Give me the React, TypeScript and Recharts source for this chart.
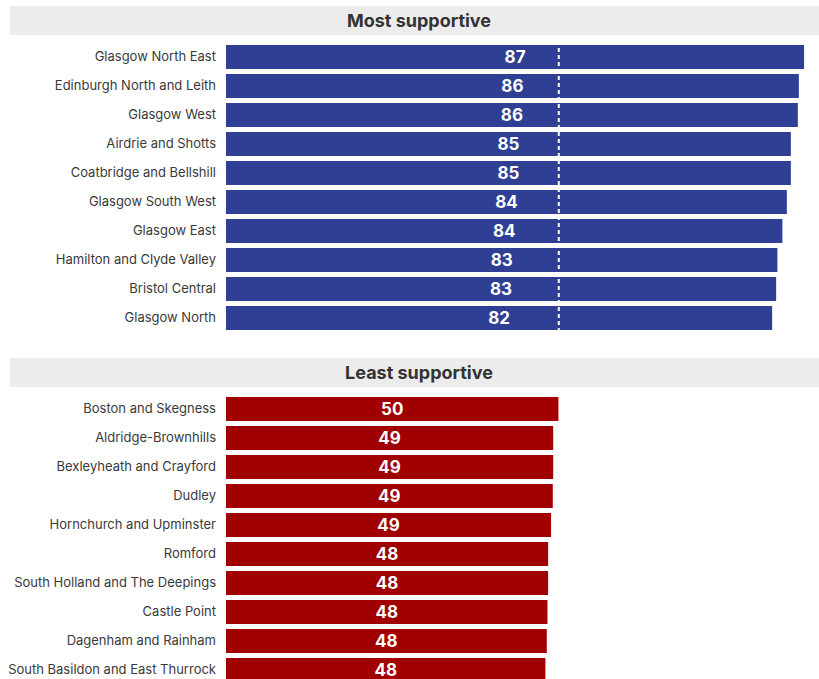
import React from 'react'
import { BarChart, Bar, XAxis, YAxis, ReferenceLine, LabelList } from 'recharts'

// most supportive constituencies (% support)
const topNames = [
  'Glasgow North East', 'Edinburgh North and Leith', 'Glasgow West', 'Airdrie and Shotts',
  'Coatbridge and Bellshill', 'Glasgow South West', 'Glasgow East', 'Hamilton and Clyde Valley',
  'Bristol Central', 'Glasgow North',
]
const topValues = [86.86, 86.07, 85.92, 84.87, 84.87, 84.27, 83.6, 82.85, 82.66, 82.06]

// least supportive
const bottomNames = [
  'Boston and Skegness', 'Aldridge-Brownhills', 'Bexleyheath and Crayford', 'Dudley',
  'Hornchurch and Upminster', 'Romford', 'South Holland and The Deepings', 'Castle Point',
  'Dagenham and Rainham', 'South Basildon and East Thurrock',
]
const bottomValues = [49.95, 49.16, 49.16, 49.1, 48.84, 48.4, 48.4, 48.3, 48.2, 47.99]

const FONT = 'Inter, "Noto Sans", sans-serif'
const BLUE = '#2e3f94'
const RED = '#a00000'

// single-line tick so long names don't wrap
const NameTick = ({ x, y, payload }: any) => (
  <text x={x} y={y} dy={4.5} textAnchor="end" fill="#3a3a3a" fontSize={13} fontFamily={FONT}>
    {payload.value}
  </text>
)

function Panel({ names, values, color, top, divider }: any) {
  const data = names.map((n: string, i: number) => ({ name: n, value: values[i] }))
  return (
    <div style={{ position: 'absolute', left: 0, top }}>
      <BarChart width={819} height={290} data={data} layout="vertical"
        margin={{ top: 0, right: 0, bottom: 0, left: 0 }} barSize={24}>
        <XAxis type="number" hide domain={[0, 89.1]} allowDataOverflow />
        <YAxis type="category" dataKey="name" width={226} axisLine={false} tickLine={false}
          tickSize={0} tickMargin={10} interval={0} tick={<NameTick />} />
        <Bar dataKey="value" fill={color} isAnimationActive={false}>
          <LabelList dataKey="value" position="center" formatter={(v: any) => Math.round(v)}
            style={{ fill: '#fff', fontSize: 17, fontWeight: 700, fontFamily: FONT }} />
        </Bar>
        {divider && <ReferenceLine x={50} stroke="#fff" strokeWidth={2} strokeDasharray="4 3" />}
      </BarChart>
    </div>
  )
}

function Header({ text, top }: { text: string; top: number }) {
  return (
    <div style={{
      position: 'absolute', left: 10, top, width: 809, height: 29, background: '#ececec',
      display: 'flex', alignItems: 'center', justifyContent: 'center', paddingLeft: 9,
      boxSizing: 'border-box', fontFamily: FONT, fontWeight: 700, fontSize: 18, color: '#333',
    }}>{text}</div>
  )
}

export default function App() {
  return (
    <div style={{ position: 'absolute', left: 0, top: 0, width: 819, height: 679, overflow: 'hidden', background: '#fff' }}>
      <Header text="Most supportive" top={6} />
      <Panel names={topNames} values={topValues} color={BLUE} top={42} divider />
      <Header text="Least supportive" top={358} />
      <Panel names={bottomNames} values={bottomValues} color={RED} top={394} />
    </div>
  )
}
